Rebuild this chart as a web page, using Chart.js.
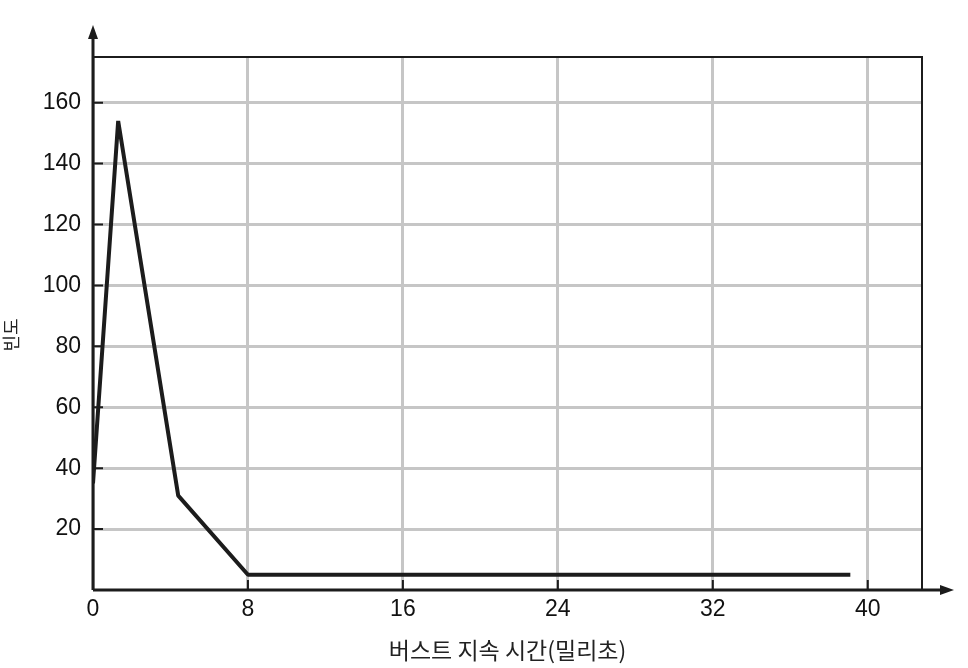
<!DOCTYPE html>
<html>
<head>
<meta charset="utf-8">
<script src="https://cdn.jsdelivr.net/npm/chart.js@4/dist/chart.umd.min.js"></script>
<style>
  body { margin: 0; background: #fff; }
  #wrap { width: 968px; height: 668px; }
</style>
</head>
<body>
<div id="wrap"><canvas id="burst" width="968" height="668"></canvas></div>
<script>
// burst duration (ms) vs. frequency
const burstMs = [0, 1.3, 4.4, 8, 39.1];
const frequency = [35, 154, 31, 5, 5];
const xTicks = [0, 8, 16, 24, 32, 40];
const yTicks = [20, 40, 60, 80, 100, 120, 140, 160];
const xTitle = '버스트 지속 시간(밀리초)';
const yTitle = '빈도';

const ink = '#1c1c1c';
const gridGray = '#c6c6c6';
const numFont = { family: '"Liberation Sans", Arial, sans-serif', size: 23, lineHeight: 1.2 };
const krFont = '"Noto Sans CJK KR", "Noto Sans", sans-serif';

// frame, axes with arrows, inner tick marks, y title
const frame = {
  id: 'frame',
  beforeDatasetsDraw(chart) {
    const { ctx, chartArea: a } = chart;
    ctx.save();
    ctx.strokeStyle = ink;
    ctx.lineWidth = 2;
    ctx.beginPath();
    ctx.moveTo(a.left, a.top);
    ctx.lineTo(a.right, a.top);
    ctx.lineTo(a.right, a.bottom);
    ctx.stroke();
    ctx.restore();
  },
  afterDraw(chart) {
    const { ctx, chartArea: a, scales } = chart;
    ctx.save();
    ctx.strokeStyle = ink;
    ctx.fillStyle = ink;
    ctx.lineWidth = 3;
    ctx.beginPath();
    ctx.moveTo(a.left, a.bottom);
    ctx.lineTo(a.right + 26, a.bottom);
    ctx.moveTo(a.left, a.bottom);
    ctx.lineTo(a.left, a.top - 26);
    ctx.stroke();
    // arrow heads
    ctx.beginPath();
    ctx.moveTo(a.right + 32, a.bottom);
    ctx.lineTo(a.right + 18, a.bottom - 5);
    ctx.lineTo(a.right + 18, a.bottom + 5);
    ctx.closePath();
    ctx.fill();
    ctx.beginPath();
    ctx.moveTo(a.left, a.top - 32);
    ctx.lineTo(a.left - 5, a.top - 18);
    ctx.lineTo(a.left + 5, a.top - 18);
    ctx.closePath();
    ctx.fill();
    // short tick marks inside the axes
    ctx.lineWidth = 2;
    ctx.beginPath();
    yTicks.forEach(v => {
      const y = scales.y.getPixelForValue(v);
      ctx.moveTo(a.left, y);
      ctx.lineTo(a.left + 10, y);
    });
    xTicks.slice(1).forEach(v => {
      const x = scales.x.getPixelForValue(v);
      ctx.moveTo(x, a.bottom);
      ctx.lineTo(x, a.bottom - 10);
    });
    ctx.stroke();
    // rotated y title
    ctx.translate(11, 335);
    ctx.rotate(-Math.PI / 2);
    ctx.font = '18px ' + krFont;
    ctx.textAlign = 'center';
    ctx.textBaseline = 'middle';
    ctx.fillStyle = '#222';
    ctx.fillText(yTitle, 0, 0);
    ctx.restore();
  }
};

new Chart(document.getElementById('burst'), {
  type: 'line',
  data: {
    datasets: [{
      data: burstMs.map((x, i) => ({ x, y: frequency[i] })),
      borderColor: ink,
      borderWidth: 4,
      pointRadius: 0,
      tension: 0,
      borderJoinStyle: 'bevel',
      fill: false,
    }],
  },
  options: {
    responsive: false,
    animation: false,
    layout: { padding: { top: 57, right: 46, left: 0, bottom: 0 } },
    plugins: { legend: { display: false }, tooltip: { enabled: false } },
    scales: {
      x: {
        type: 'linear', min: 0, max: 42.8,
        afterBuildTicks: s => { s.ticks = xTicks.map(v => ({ value: v })); },
        afterFit: s => { s.height = 78; },
        grid: { color: gridGray, lineWidth: 3, drawTicks: false },
        border: { display: false },
        ticks: { color: '#111', font: numFont, padding: 6, maxRotation: 0 },
        title: { display: true, text: xTitle, color: '#222', font: { family: krFont, size: 23, lineHeight: 1.2 }, padding: { top: 0, bottom: 4 } },
      },
      y: {
        type: 'linear', min: 0, max: 175,
        afterBuildTicks: s => { s.ticks = yTicks.map(v => ({ value: v })); },
        afterFit: s => { s.width = 93; },
        grid: { color: gridGray, lineWidth: 3, drawTicks: false },
        border: { display: false },
        ticks: { color: '#111', font: numFont, padding: 12 },
      },
    },
  },
  plugins: [frame],
});
</script>
</body>
</html>
